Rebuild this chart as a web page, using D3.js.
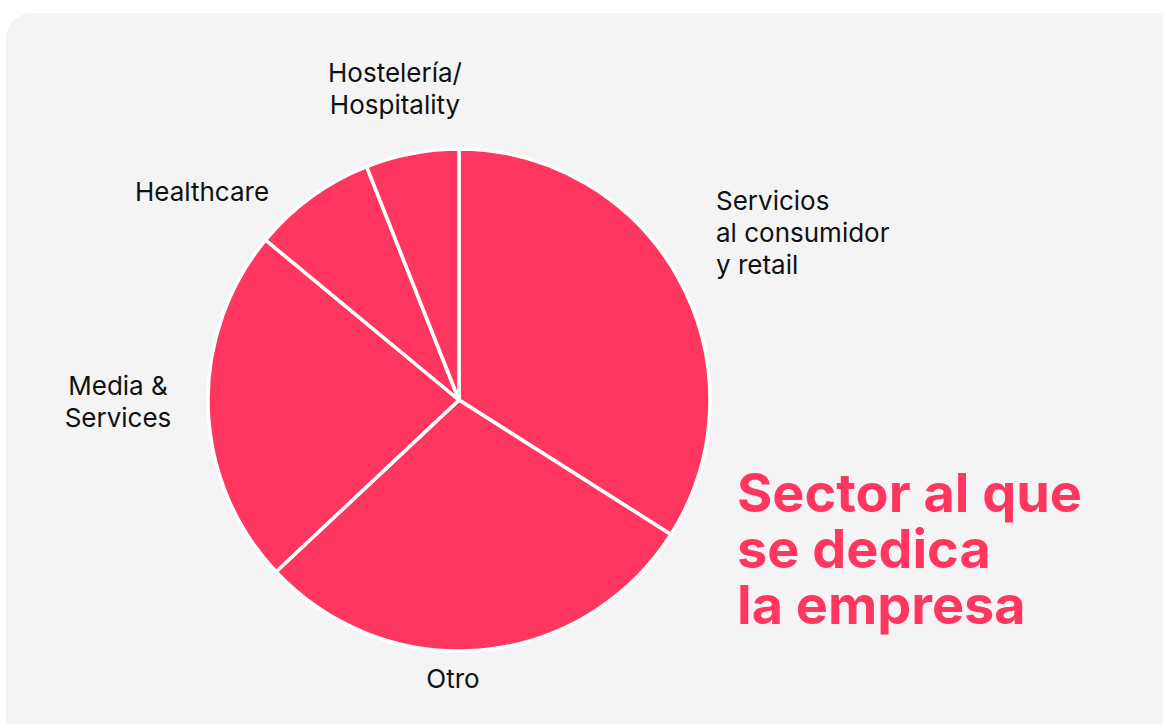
<!DOCTYPE html>
<html>
<head>
<meta charset="utf-8">
<script src="https://cdn.jsdelivr.net/npm/d3@7/dist/d3.min.js"></script>
<style>
  html, body { margin: 0; padding: 0; background: #fff; }
  svg { display: block; }
  .label { font-family: Inter, "Noto Sans", sans-serif; font-size: 26px; fill: #111; }
  .title { font-family: Inter, "Noto Sans", sans-serif; font-size: 54px; font-weight: 700; fill: #ff365f; }
</style>
</head>
<body>
<svg id="chart"></svg>
<script>
// Pie of company sectors; slices run clockwise from 12 o'clock
const WIDTH = 1163;
const HEIGHT = 724;

const sectors = ['Servicios al consumidor y retail', 'Otro', 'Media & Services', 'Healthcare', 'Hostelería/Hospitality'];
const shares = [34, 29, 23, 8, 6];
const labelLines = [
  ['Servicios', 'al consumidor', 'y retail'],
  ['Otro'],
  ['Media &', 'Services'],
  ['Healthcare'],
  ['Hostelería/', 'Hospitality']
];
const titleLines = ['Sector al que', 'se dedica', 'la empresa'];

// Label anchor points (first baseline) and alignment
const labelPlace = {
  'Servicios al consumidor y retail': { x: 716, y: 210, anchor: 'start' },
  'Otro': { x: 453, y: 688, anchor: 'middle' },
  'Media & Services': { x: 118, y: 395, anchor: 'middle' },
  'Healthcare': { x: 202, y: 201, anchor: 'middle' },
  'Hostelería/Hospitality': { x: 395, y: 82, anchor: 'middle' }
};

const CX = 459, CY = 400, R = 251;
const PINK = '#ff365f';

const svg = d3.select('#chart')
  .attr('width', WIDTH)
  .attr('height', HEIGHT);

// Panel background
svg.append('rect')
  .attr('x', 6)
  .attr('y', 13)
  .attr('width', 1190)
  .attr('height', 740)
  .attr('rx', 26)
  .attr('fill', '#f4f4f4');

const data = sectors.map((s, i) => ({ sector: s, value: shares[i], lines: labelLines[i] }));

const pie = d3.pie()
  .value(d => d.value)
  .sort(null);

const arc = d3.arc()
  .innerRadius(0)
  .outerRadius(R);

const g = svg.append('g')
  .attr('transform', `translate(${CX},${CY})`);

g.selectAll('path.slice')
  .data(pie(data))
  .enter()
  .append('path')
  .attr('class', 'slice')
  .attr('d', arc)
  .attr('fill', PINK)
  .attr('stroke', '#fff')
  .attr('stroke-width', 3.5)
  .attr('stroke-linejoin', 'round');

// Category labels
data.forEach(d => {
  const p = labelPlace[d.sector];
  const t = svg.append('text')
    .attr('class', 'label')
    .attr('x', p.x)
    .attr('y', p.y)
    .attr('text-anchor', p.anchor);
  d.lines.forEach((line, i) => {
    t.append('tspan')
      .attr('x', p.x)
      .attr('dy', i === 0 ? 0 : 32)
      .text(line);
  });
});

// Title
const title = svg.append('text')
  .attr('class', 'title')
  .attr('x', 737)
  .attr('y', 512);
titleLines.forEach((line, i) => {
  title.append('tspan')
    .attr('x', 737)
    .attr('dy', i === 0 ? 0 : 56)
    .text(line);
});
</script>
</body>
</html>
